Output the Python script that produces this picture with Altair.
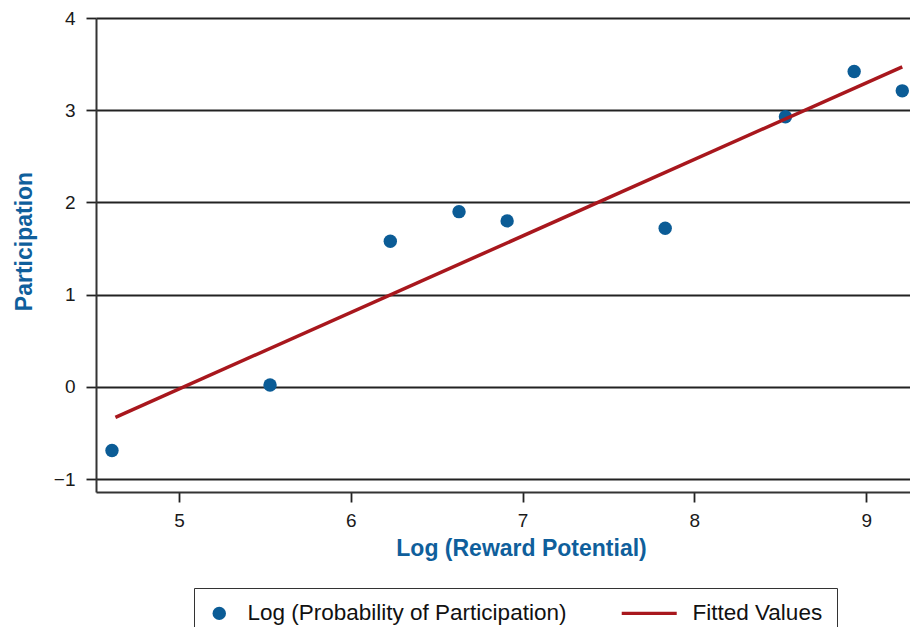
import altair as alt
import pandas as pd

# ---- data ----
log_reward = [4.61, 5.53, 6.23, 6.63, 6.91, 7.83, 8.53, 8.93, 9.21]
log_prob = [-0.69, 0.02, 1.58, 1.90, 1.80, 1.72, 2.93, 3.42, 3.21]
fit_x = [4.63, 9.21]
fit_y = [-0.33, 3.47]

SERIES_PTS = "Log (Probability of Participation)"
SERIES_FIT = "Fitted Values"
y_ticks = [-1, 0, 1, 2, 3, 4]
x_ticks = [5, 6, 7, 8, 9]

BLUE = "#0b5c96"
RED = "#a8171d"
TXT_BLUE = "#0f5f9c"
FONT = "Liberation Sans"

pts = pd.DataFrame({"x": log_reward, "y": log_prob, "series": SERIES_PTS})
fit = pd.DataFrame({"x": fit_x, "y": fit_y, "series": SERIES_FIT})

xscale = alt.Scale(domain=[4.517, 9.255], nice=False, zero=False)
yscale = alt.Scale(domain=[-1.14, 4], nice=False, zero=False)

xaxis = alt.Axis(
    values=x_ticks, format="d", grid=False, title="Log (Reward Potential)",
    titleFont=FONT, titleFontSize=23, titleFontWeight="bold", titleColor=TXT_BLUE,
    titleX=425, titleY=56, titleBaseline="middle", titleAlign="center",
    labelFont=FONT, labelFontSize=19, labelColor="#1a1a1a", labelPadding=9,
    tickSize=10, tickColor="#222", tickWidth=1.8,
    domainColor="#333", domainWidth=2,
)
yaxis = alt.Axis(
    values=y_ticks, format="d", grid=True, gridColor="#222", gridWidth=1.8,
    title="Participation",
    titleFont=FONT, titleFontSize=23, titleFontWeight="bold", titleColor=TXT_BLUE,
    titleX=-72, titleY=223, titleBaseline="middle", titleAlign="center", titleAngle=270,
    labelFont=FONT, labelFontSize=19, labelColor="#1a1a1a", labelPadding=11,
    tickSize=10, tickColor="#222", tickWidth=1.8,
    domainColor="#333", domainWidth=2,
)

legend = alt.Legend(
    orient="none", legendX=98, legendY=570, direction="horizontal", title=None,
    strokeColor="#333", padding=14, labelFont=FONT, labelFontSize=22.5,
    labelColor="#111", symbolSize=180, symbolOpacity=1, columnPadding=51,
    labelOffset=17, labelLimit=0,
)

points = alt.Chart(pts).mark_point(filled=True, opacity=1, size=180).encode(
    x=alt.X("x:Q", scale=xscale, axis=xaxis),
    y=alt.Y("y:Q", scale=yscale, axis=yaxis),
    color=alt.Color("series:N", scale=alt.Scale(domain=[SERIES_PTS, SERIES_FIT], range=[BLUE, RED]), legend=legend),
    shape=alt.Shape("series:N", scale=alt.Scale(domain=[SERIES_PTS, SERIES_FIT],
                                                range=["circle", "M-6.34,-0.26H1.86V0.26H-6.34Z"]), legend=legend),
)

line = alt.Chart(fit).mark_line(color=RED, strokeWidth=3.5).encode(
    x=alt.X("x:Q", scale=xscale, axis=xaxis),
    y=alt.Y("y:Q", scale=yscale, axis=yaxis),
)

chart = alt.layer(points, line).properties(
    width=814, height=474,
    autosize=alt.AutoSizeParams(type="none"),
    padding={"left": 88, "top": 10, "right": 0, "bottom": 135},
).configure_view(stroke=None)

chart.save("out.html", embed_options={"renderer": "svg", "actions": False})
